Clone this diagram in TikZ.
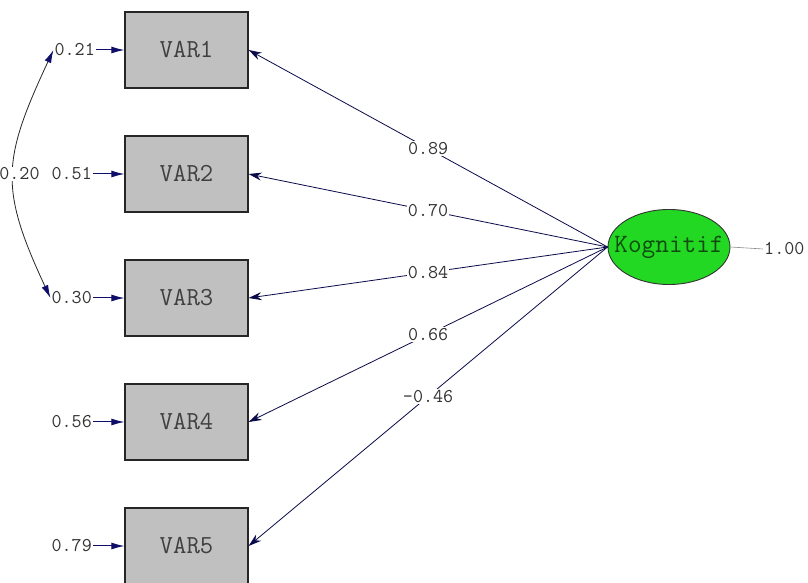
\documentclass[tikz,border=0pt]{standalone}
\usetikzlibrary{arrows.meta,shapes.geometric}
\definecolor{boxgray}{RGB}{192,192,192}
\definecolor{navy}{RGB}{15,15,105}
\definecolor{lvgreen}{RGB}{34,216,34}
\definecolor{txtgreen}{RGB}{15,75,15}
\begin{document}
\begin{tikzpicture}[x=1pt,y=1pt,
  obs/.style={draw=black!85,line width=1.2pt,fill=boxgray,minimum width=123pt,minimum height=76pt,inner sep=0pt,font=\ttfamily\fontsize{26}{26}\selectfont,text=black!75},
  lat/.style={ellipse,draw=black!80,line width=0.9pt,fill=lvgreen,minimum width=122pt,minimum height=75pt,inner sep=0pt},
  lattext/.style={font=\ttfamily\fontsize{26.5}{26.5}\selectfont,text=txtgreen,inner sep=0pt},
  lbl/.style={font=\ttfamily\fontsize{19.5}{19.5}\selectfont,text=black!80,inner sep=1pt},
  onl/.style={lbl,fill=white},
  load/.style={draw=navy!70!black,line width=0.8pt,-{Stealth[length=13pt,width=8pt]}},
  err/.style={draw=navy,line width=1pt,-{Latex[length=13pt,width=7pt]}},
  cov/.style={draw=black!85,line width=0.8pt,{Latex[length=13pt,width=7pt,color=navy]}-{Latex[length=13pt,width=7pt,color=navy]}},
]
\useasboundingbox[fill=white] (0,0) rectangle (808,583);

% observed variables
\node[obs] (V1) at (186.5,533) {VAR1};
\node[obs] (V2) at (186.5,409) {VAR2};
\node[obs] (V3) at (186.5,285) {VAR3};
\node[obs] (V4) at (186.5,161) {VAR4};
\node[obs] (V5) at (186.5,37) {VAR5};

% error variances
\node[lbl,anchor=east] (e1) at (96,533) {0.21};
\node[lbl,anchor=east] (e2) at (93,409) {0.51};
\node[lbl,anchor=east] (e3) at (93,285) {0.30};
\node[lbl,anchor=east] (e4) at (93,161) {0.56};
\node[lbl,anchor=east] (e5) at (93,37) {0.79};
\foreach \i in {1,...,5} \draw[err] (e\i.east) -- (V\i.west);

% latent variable
\node[lat] (K) at (669,336) {};
\node[lattext] (Kt) at (K.center) {Kognitif};
\node[lbl,anchor=west] (u) at (763,334) {1.00};
\draw[black!45,line width=0.6pt] (K.east) -- (u.west);

% loadings
\draw[load] (K.west) -- node[onl] {0.89} (V1.east);
\draw[load] (K.west) -- node[onl] {0.70} (V2.east);
\draw[load] (K.west) -- node[onl] {0.84} (V3.east);
\draw[load] (K.west) -- node[onl] {0.66} (V4.east);
\draw[load] (K.west) -- node[onl] {-0.46} (V5.east);

% error covariance
\draw[cov] (e1.west) to[out=245,in=115,looseness=1.25] coordinate[pos=0.5] (cm) (e3.west);
\node[onl] (cl) at ([xshift=6pt]cm) {0.20};
\end{tikzpicture}
\end{document}
